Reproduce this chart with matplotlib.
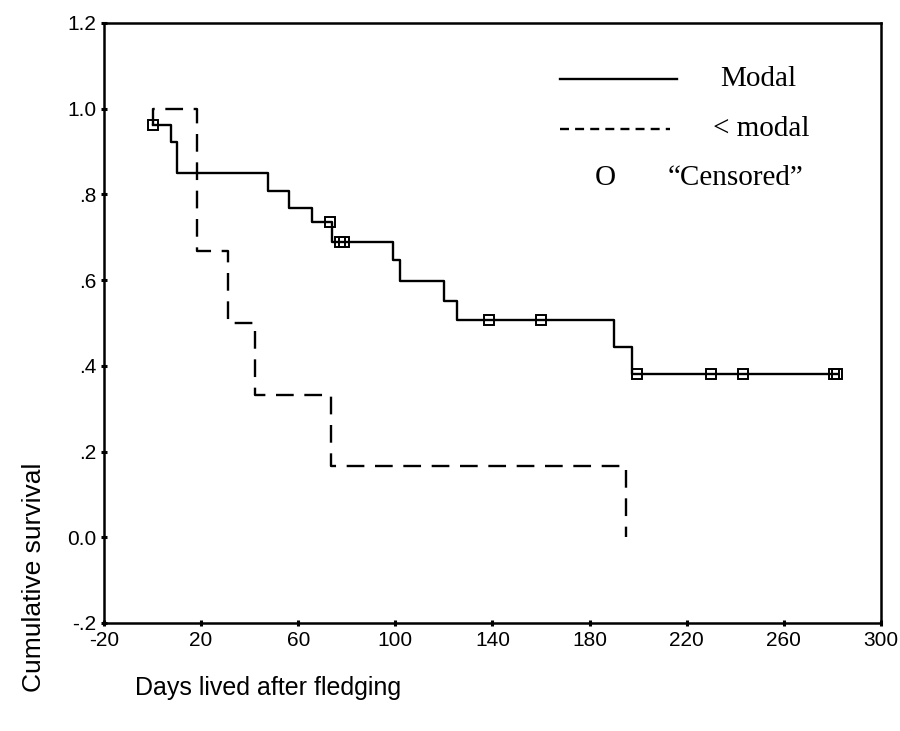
import numpy as np
import matplotlib
matplotlib.use('Agg')
import matplotlib.pyplot as plt

# Kaplan-Meier steps
modal_t = [0, 7.5, 10, 47.5, 56, 65.5, 74, 99, 102, 120, 125.5, 190, 197.5, 282]
modal_s = [0.963, 0.923, 0.849, 0.807, 0.768, 0.735, 0.688, 0.647, 0.598, 0.551, 0.507, 0.444, 0.38, 0.38]

# censored observations (modal group)
cens_t = [0, 73, 77, 79, 138.5, 160, 199.5, 230, 243, 280.5, 282]
cens_s = [0.963, 0.735, 0.688, 0.688, 0.507, 0.507, 0.38, 0.38, 0.38, 0.38, 0.38]

# < modal group
low_t = [0, 0, 18.5, 31, 42, 73.5, 195]
low_s = [0.963, 1.0, 0.667, 0.5, 0.333, 0.167, 0.0]

xticks = [-20, 20, 60, 100, 140, 180, 220, 260, 300]
yticks = [-0.2, 0.0, 0.2, 0.4, 0.6, 0.8, 1.0, 1.2]
ytick_labels = ['-.2', '0.0', '.2', '.4', '.6', '.8', '1.0', '1.2']

sans = ['Liberation Sans', 'DejaVu Sans']
serif = ['Liberation Serif', 'DejaVu Serif']

fig = plt.figure(figsize=(9, 7.31), dpi=100)
ax = fig.add_axes([104/900, 1-623/731, 777/900, 600/731])

ax.plot(modal_t, modal_s, drawstyle='steps-post', color='black', lw=1.7)
ax.plot(low_t, low_s, drawstyle='steps-post', color='black', lw=1.7,
        linestyle=(0, (7.5, 4.5)))
ax.plot(cens_t, cens_s, 's', mfc='none', mec='black', mew=1.4, ms=7)

ax.set_xlim(-20, 300)
ax.set_ylim(-0.2, 1.2)
ax.set_xticks(xticks)
ax.set_xticklabels([str(v) for v in xticks], family=sans, fontsize=15)
ax.set_yticks(yticks)
ax.set_yticklabels(ytick_labels, family=sans, fontsize=15)
ax.tick_params(direction='inout', length=5, width=2.2, pad=3)
for sp in ax.spines.values():
    sp.set_linewidth(1.8)

# hand drawn legend
ax.plot([0.587, 0.737], [0.907, 0.907], transform=ax.transAxes, color='black', lw=1.7)
ax.plot([0.587, 0.728], [0.823, 0.823], transform=ax.transAxes, color='black', lw=1.7,
        linestyle=(0, (3.8, 2.6)))
ax.text(0.645, 0.742, 'O', transform=ax.transAxes, ha='center', va='center',
        family=serif, fontsize=21)
ax.text(0.793, 0.907, 'Modal', transform=ax.transAxes, va='center', family=serif, fontsize=21)
ax.text(0.784, 0.823, '< modal', transform=ax.transAxes, va='center', family=serif, fontsize=21)
ax.text(0.726, 0.742, '\u201cCensored\u201d', transform=ax.transAxes, va='center',
        family=serif, fontsize=21)

fig.text(34/900, 1-577.5/731, 'Cumulative survival', rotation=90, ha='center', va='center',
         family=sans, fontsize=19)
fig.text(135/900, 1-688/731, 'Days lived after fledging', ha='left', va='center',
         family=sans, fontsize=18)

fig.savefig('out.png', dpi=100)
